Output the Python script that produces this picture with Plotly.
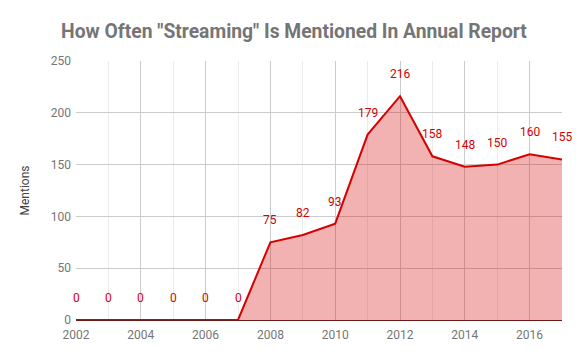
import plotly.graph_objects as go

years = [2002, 2003, 2004, 2005, 2006, 2007, 2008, 2009, 2010, 2011, 2012, 2013, 2014, 2015, 2016, 2017]
mentions = [0, 0, 0, 0, 0, 0, 75, 82, 93, 179, 216, 158, 148, 150, 160, 155]

title_text = 'How Often "Streaming" Is Mentioned In Annual Report'
y_title = "Mentions"

fig = go.Figure()
fig.add_trace(go.Scatter(
    x=years, y=mentions, mode="lines", fill="tozeroy",
    line=dict(color="#d50000", width=2),
    fillcolor="rgba(213,0,0,0.3)",
    hoverinfo="x+y", showlegend=False,
))

for x, y in zip(years, mentions):
    fig.add_annotation(x=x, y=y, text=str(y), showarrow=False, yshift=22,
                       font=dict(family="Roboto", size=12, color="#d50000"))

# page body has an 8px margin, so the figure is sized/offset to compensate
fig.update_layout(
    width=572, height=351,
    margin=dict(l=68, r=18, t=53, b=39),
    paper_bgcolor="white", plot_bgcolor="white",
    title=dict(text=title_text, x=0.5, xanchor="center", y=(351 - 23) / 351, yanchor="middle",
               font=dict(family="Roboto", size=19.3, color="#757575", weight="bold")),
    font=dict(family="Roboto", size=12, color="#757575"),
)
fig.update_xaxes(
    range=[2002, 2017], tickmode="linear", tick0=2002, dtick=2,
    showgrid=True, gridcolor="#cccccc", gridwidth=1,
    minor=dict(dtick=1, tick0=2002, showgrid=True, gridcolor="#ececec", gridwidth=1),
    zeroline=False, showline=False, ticks="", ticklabelstandoff=6,
    tickfont=dict(family="Roboto", size=12, color="#757575"),
)
fig.update_yaxes(
    range=[0, 250], tickmode="linear", tick0=0, dtick=50,
    showgrid=True, gridcolor="#cccccc", gridwidth=1,
    zeroline=True, zerolinecolor="#6d1a1a", zerolinewidth=1,
    showline=False, ticks="", ticklabelstandoff=4,
    title=dict(text=y_title, font=dict(family="Roboto", size=12, color="#424242"), standoff=18),
    tickfont=dict(family="Roboto", size=12, color="#757575"),
)

fig.write_html("out.html")
